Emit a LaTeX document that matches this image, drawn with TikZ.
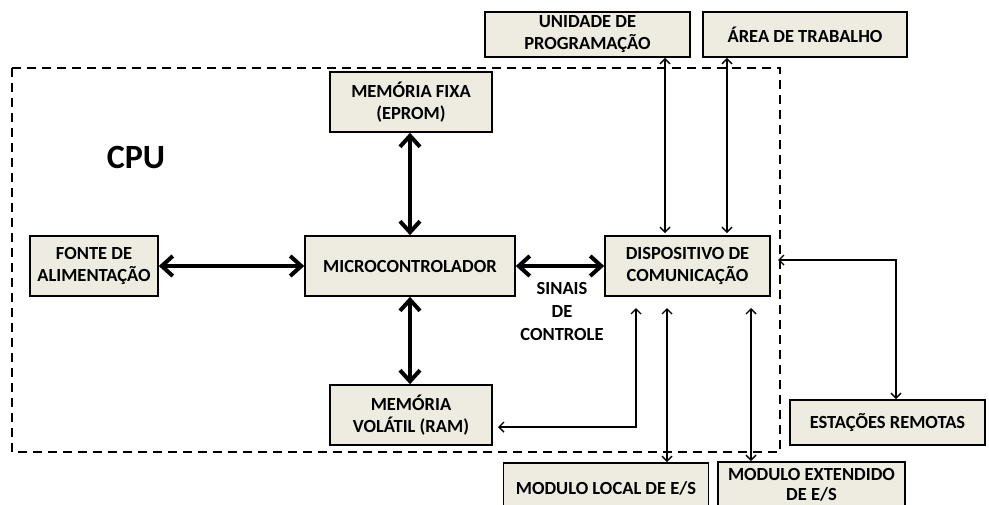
\documentclass[tikz,border=0pt]{standalone}
\usepackage{fontspec}
\setmainfont{Carlito}
\usetikzlibrary{arrows.meta}
\definecolor{boxfill}{HTML}{EEECE1}
\tikzset{
  blk/.style={draw=black, line width=1.6pt, fill=boxfill, align=center,
    font=\fontsize{18.5}{22}\selectfont\bfseries, inner sep=0pt},
  thickarrow/.style={line width=4pt, {Straight Barb[length=11pt,width=20pt]}-{Straight Barb[length=11pt,width=20pt]}},
  thinarrow/.style={line width=1.4pt, {Straight Barb[length=5pt,width=10pt]}-{Straight Barb[length=5pt,width=10pt]}},
  cpuframe/.style={line width=2pt, dash pattern=on 9pt off 6pt},
  lbl/.style={align=center, font=\fontsize{18.5}{23}\selectfont\bfseries}
}
\begin{document}
\begin{tikzpicture}[x=1pt,y=-1pt]
\useasboundingbox (0,0) rectangle (989,504);

% CPU boundary
\draw[cpuframe] (12,68) rectangle (780,452);
\node[font=\fontsize{34}{36}\selectfont\bfseries] (cpu) at (136,157) {CPU};

% blocks inside the CPU
\node[blk, minimum width=128pt, minimum height=60pt] (fonte) at (94,266) {FONTE DE\\ALIMENTAÇÃO};
\node[blk, minimum width=210pt, minimum height=60pt] (micro) at (410,266) {MICROCONTROLADOR};
\node[blk, minimum width=165pt, minimum height=60pt] (disp) at (687.5,266) {DISPOSITIVO DE\\COMUNICAÇÃO};
\node[blk, minimum width=162pt, minimum height=60pt] (rom) at (411,102) {MEMÓRIA FIXA\\(EPROM)};
\node[blk, minimum width=162pt, minimum height=60pt] (ram) at (411,415) {MEMÓRIA\\VOLÁTIL (RAM)};

% external blocks
\node[blk, minimum width=205pt, minimum height=45pt] (prog) at (587.5,34.5) {UNIDADE DE\\PROGRAMAÇÃO};
\node[blk, minimum width=204pt, minimum height=45pt] (area) at (805,34.5) {ÁREA DE TRABALHO};
\node[blk, minimum width=195pt, minimum height=45pt] (est) at (887.5,422.5) {ESTAÇÕES REMOTAS};
\node[blk, minimum width=205pt, minimum height=50pt] (local) at (606,488) {MODULO LOCAL DE E/S};
\node[blk, minimum width=187pt, minimum height=46pt, font=\fontsize{18.5}{20}\selectfont\bfseries] (ext) at (811.5,485) {MODULO EXTENDIDO\\DE E/S};

\node[lbl] (sinais) at (562,311) {SINAIS\\DE\\CONTROLE};

% internal buses
\draw[thickarrow] (fonte.east) -- (micro.west);
\draw[thickarrow] (micro.east) -- (disp.west);
\draw[thickarrow] (rom.south -| micro.north) -- (micro.north);
\draw[thickarrow] (micro.south) -- (ram.north -| micro.south);

% guide coordinates for the thin links
\coordinate (xprog) at (665,0);
\coordinate (xarea) at (727,0);
\coordinate (xram) at (636,308);
\coordinate (xlocal) at (667,308);
\coordinate (xext) at (751,308);
\coordinate (rin) at (778,260);
\coordinate (rturn) at (896,260);
\coordinate (ramturn) at (636,427);
\coordinate (ramin) at (498,427);

\draw[thinarrow, shorten >=2pt] (prog.south -| xprog) -- (disp.north -| xprog);
\draw[thinarrow, shorten >=2pt] (area.south -| xarea) -- (disp.north -| xarea);
\draw[thinarrow] (rin) -- (rturn) -- (est.north -| rturn);
\draw[thinarrow] (xram) -- (ramturn) -- (ramin);
\draw[thinarrow] (xlocal) -- (local.north -| xlocal);
\draw[thinarrow] (xext) -- (ext.north -| xext);
\end{tikzpicture}
\end{document}
